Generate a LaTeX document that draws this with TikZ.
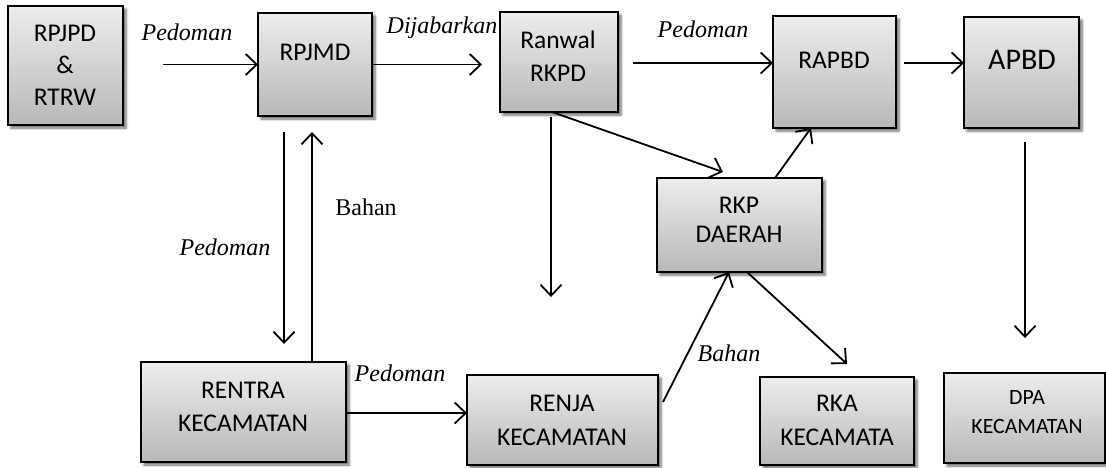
\documentclass[tikz,border=0pt]{standalone}
\usepackage{fontspec}
\setmainfont{Carlito}
\newfontfamily\tnr{Liberation Serif}
\usetikzlibrary{arrows.meta,shadows.blur}
\definecolor{boxtop}{HTML}{EDEDED}
\definecolor{boxbot}{HTML}{B8B8B8}
\begin{document}
\begin{tikzpicture}[x=1pt,y=-1pt,
  box/.style={draw=black, line width=1.8pt, top color=boxtop, bottom color=boxbot,
    blur shadow={shadow xshift=3pt, shadow yshift=-3pt, shadow blur steps=5, shadow blur radius=2.5pt, shadow opacity=60},
    anchor=north west, inner sep=0pt, outer sep=0pt},
  btxt/.style={font=\fontsize{25.5}{33}\selectfont, align=center, inner sep=0pt},
  lab/.style={font=\tnr\itshape\fontsize{24}{28}\selectfont, inner sep=0pt},
  ulab/.style={font=\tnr\fontsize{24}{28}\selectfont, inner sep=0pt},
  arr/.style={line width=1.8pt, -{Straight Barb[length=11pt,width=21pt,line width=1.8pt]}}
]
\useasboundingbox (0,0) rectangle (1106,467);

% boxes
\node[box, minimum width=115pt, minimum height=119pt] (rpjpd) at (8,6) {};
\node[box, minimum width=114pt, minimum height=103pt] (rpjmd) at (258,13) {};
\node[box, minimum width=118pt, minimum height=100pt] (ranwal) at (500,12) {};
\node[box, minimum width=123pt, minimum height=112pt] (rapbd) at (773,16) {};
\node[box, minimum width=115pt, minimum height=111pt] (apbd) at (964,17) {};
\node[box, minimum width=165pt, minimum height=94pt] (rkp) at (657,178) {};
\node[box, minimum width=205pt, minimum height=100pt] (rentra) at (141,362) {};
\node[box, minimum width=191pt, minimum height=90pt] (renja) at (467,375) {};
\node[box, minimum width=154pt, minimum height=88pt] (rka) at (760,377) {};
\node[box, minimum width=161pt, minimum height=90pt] (dpa) at (944,373) {};

% box texts
\node[btxt, font=\fontsize{25.5}{32}\selectfont] (trpjpd) at (65,65.5) {RPJPD\\\&\\RTRW};
\node[btxt] (trpjmd) at (315,52) {RPJMD};
\node[btxt] (tranwal) at (558,56.5) {Ranwal\\RKPD};
\node[btxt] (trapbd) at (834,60) {RAPBD};
\node[btxt, font=\fontsize{30}{33}\selectfont] (tapbd) at (1022,60) {APBD};
\node[btxt, font=\fontsize{25.5}{29}\selectfont] (trkp) at (739,219.5) {RKP\\DAERAH};
\node[btxt] (trentra) at (243,406.5) {RENTRA\\KECAMATAN};
\node[btxt, font=\fontsize{25.5}{34}\selectfont] (trenja) at (562,420) {RENJA\\KECAMATAN};
\node[btxt, font=\fontsize{25.5}{34}\selectfont] (trka) at (837,420) {RKA\\KECAMATA};
\node[btxt, font=\fontsize{21.8}{29}\selectfont] (tdpa) at (1027,412.5) {DPA\\KECAMATAN};

% labels
\node[lab] (l1) at (187,32) {Pedoman};
\node[lab] (l2) at (442,28) {Dijabarkan};
\node[lab] (l3) at (703,29) {Pedoman};
\node[ulab] (l4) at (366,207) {Bahan};
\node[lab] (l5) at (225,247) {Pedoman};
\node[lab] (l6) at (400,373) {Pedoman};
\node[lab] (l7) at (729,353) {Bahan};

% free ends
\coordinate (c1) at (163,64.5);
\coordinate (c2) at (482,64.5);
\coordinate (c3) at (633,63);
\coordinate (c4) at (904,63);
\coordinate (d1) at (284,132);
\coordinate (d2) at (284,344);
\coordinate (u1) at (312,132);
\coordinate (r1) at (551,117);
\coordinate (r2) at (551,297);
\coordinate (r3) at (552,0);
\coordinate (k1) at (723,172);
\coordinate (k2) at (775,0);
\coordinate (k3) at (811,0);
\coordinate (e1) at (663,402);
\coordinate (e2) at (729,0);
\coordinate (k4) at (747,0);
\coordinate (k5) at (847,364);
\coordinate (a1) at (1025,142);
\coordinate (a2) at (1025,338);

% connectors
\draw[arr] (c1) -- (rpjmd.west);
\draw[arr] (rpjmd.east) -- (c2);
\draw[arr] (c3) -- (c3 -| rapbd.west);
\draw[arr] (c4) -- (c4 -| apbd.west);
\draw[arr] (d1) -- (d2);
\draw[arr] (u1 |- rentra.north) -- (u1);
\draw[arr] (r1) -- (r2);
\draw[arr] (r3 |- ranwal.south) -- (k1);
\draw[arr] (k2 |- rkp.north) -- (k3 |- rapbd.south);
\draw[arr] (rentra.east |- 0,413) -- (0,413 -| renja.west);
\draw[arr] (e1) -- (e2 |- rkp.south);
\draw[arr] (k4 |- rkp.south) -- (k5);
\draw[arr] (a1) -- (a2);
\end{tikzpicture}
\end{document}
